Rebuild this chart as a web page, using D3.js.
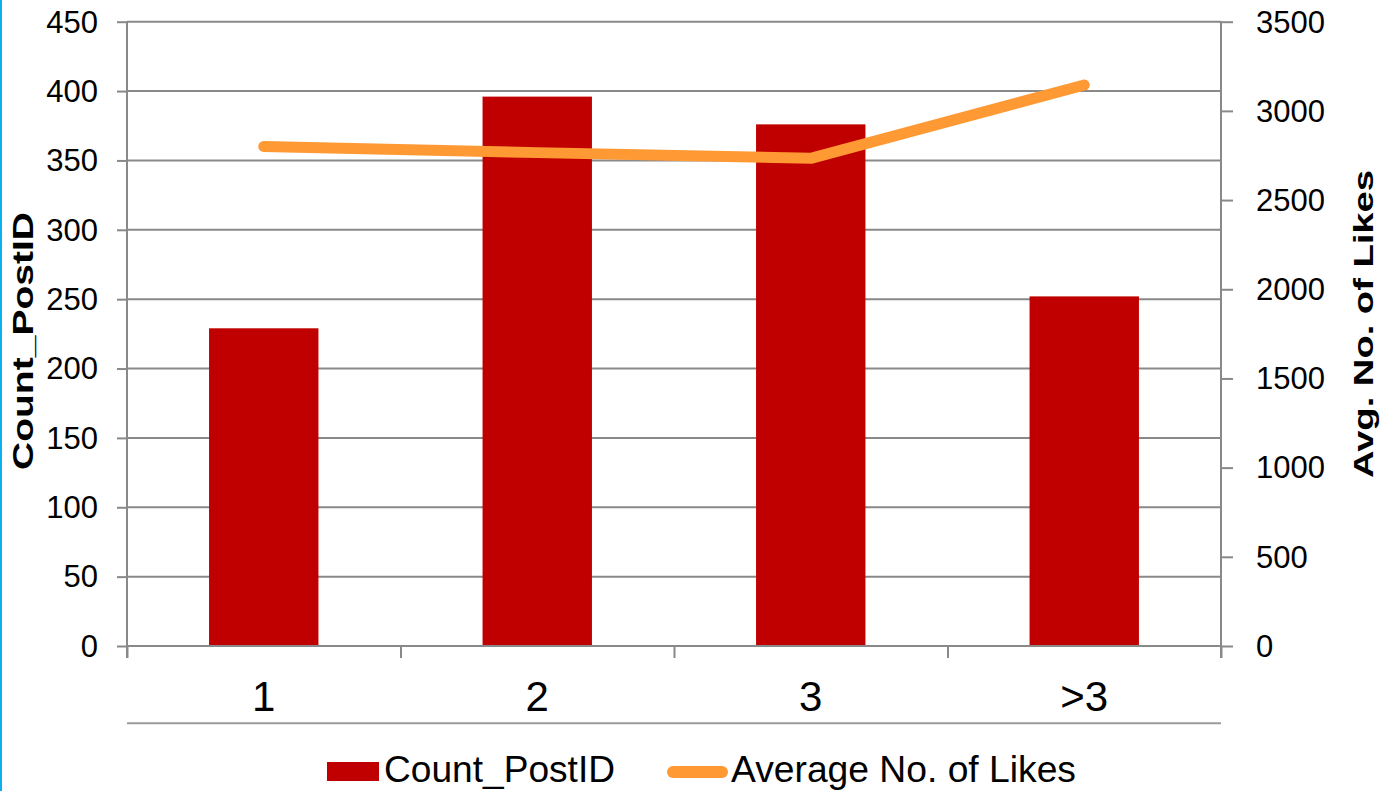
<!DOCTYPE html>
<html>
<head>
<meta charset="utf-8">
<script src="https://cdn.jsdelivr.net/npm/d3@7"></script>
<style>
  html, body { margin: 0; padding: 0; background: #fff; }
  svg { display: block; }
  text { font-family: "Liberation Sans", Arial, sans-serif; fill: #000; }
</style>
</head>
<body>
<svg id="chart" width="1390" height="791"></svg>
<script>
// Posts grouped by number of items
const categories = ["1", "2", "3", ">3"];
const countPostID = [229, 396, 376, 252];
const avgLikes = [2800, 2766, 2734, 3145];
const leftTicks = [0, 50, 100, 150, 200, 250, 300, 350, 400, 450];
const rightTicks = [0, 500, 1000, 1500, 2000, 2500, 3000, 3500];
const seriesNames = ["Count_PostID", "Average No. of Likes"];
const axisTitles = { left: "Count_PostID", right: "Avg. No. of Likes" };

const W = 1390, H = 791;
const plot = { left: 127, right: 1221, top: 21.7, bottom: 646 };
const gridColor = "#898989";
const barColor = "#C00000";
const lineColor = "#FF9933";

const svg = d3.select("#chart");

// thin accent border on the left edge
svg.append("rect").attr("x", 0).attr("y", 0).attr("width", 2).attr("height", H)
  .attr("fill", "#0AB0F0");

const x = d3.scaleBand().domain(categories)
  .range([plot.left, plot.right]).paddingInner(0.6).paddingOuter(0.3);
const xEdge = d3.scaleLinear().domain([0, categories.length]).range([plot.left, plot.right]);
const yL = d3.scaleLinear().domain([0, 450]).range([plot.bottom, plot.top]);
const yR = d3.scaleLinear().domain([0, 3500]).range([plot.bottom, plot.top]);

// gridlines + left tick marks
const gLeft = svg.append("g").attr("transform", `translate(${plot.left},0)`)
  .call(d3.axisLeft(yL).tickValues(leftTicks).tickSize(10).tickFormat(""));
gLeft.select(".domain").remove();
gLeft.selectAll(".tick line").attr("stroke", gridColor).attr("stroke-width", 2);

svg.append("g").selectAll("line").data(leftTicks).join("line")
  .attr("x1", plot.left).attr("x2", plot.right)
  .attr("y1", d => yL(d)).attr("y2", d => yL(d))
  .attr("stroke", gridColor).attr("stroke-width", 2);

// left tick labels
svg.append("g").selectAll("text").data(leftTicks).join("text")
  .attr("x", 98).attr("y", d => yL(d)).attr("dy", "0.35em")
  .attr("text-anchor", "end").attr("font-size", 31)
  .text(d => d);

// right axis ticks
const gRight = svg.append("g").attr("transform", `translate(${plot.right},0)`)
  .call(d3.axisRight(yR).tickValues(rightTicks).tickSize(12).tickFormat(""));
gRight.select(".domain").remove();
gRight.selectAll(".tick line").attr("stroke", gridColor).attr("stroke-width", 2);

svg.append("g").selectAll("text").data(rightTicks).join("text")
  .attr("x", 1256).attr("y", d => yR(d)).attr("dy", "0.35em")
  .attr("text-anchor", "start").attr("font-size", 31)
  .text(d => d);

// vertical axis lines (extend down through category ticks)
[plot.left, plot.right].forEach(px => {
  svg.append("line").attr("x1", px).attr("x2", px)
    .attr("y1", plot.top).attr("y2", plot.bottom + 12)
    .attr("stroke", gridColor).attr("stroke-width", 2);
});

// category boundary ticks
const gBottom = svg.append("g").attr("transform", `translate(0,${plot.bottom})`)
  .call(d3.axisBottom(xEdge).tickValues(d3.range(0, categories.length + 1)).tickSize(12).tickFormat(""));
gBottom.select(".domain").remove();
gBottom.selectAll(".tick line").attr("stroke", gridColor).attr("stroke-width", 2);

// bars
svg.append("g").selectAll("rect").data(categories).join("rect")
  .attr("x", d => x(d)).attr("width", x.bandwidth())
  .attr("y", (d, i) => yL(countPostID[i]))
  .attr("height", (d, i) => yL(0) - yL(countPostID[i]))
  .attr("fill", barColor);

// zero line on top of bars
svg.append("line").attr("x1", plot.left).attr("x2", plot.right)
  .attr("y1", yL(0)).attr("y2", yL(0))
  .attr("stroke", gridColor).attr("stroke-width", 2);

// average likes line
const line = d3.line()
  .x((d, i) => x(categories[i]) + x.bandwidth() / 2)
  .y(d => yR(d));
svg.append("path").datum(avgLikes).attr("d", line)
  .attr("fill", "none").attr("stroke", lineColor).attr("stroke-width", 11)
  .attr("stroke-linecap", "round").attr("stroke-linejoin", "round");

// category labels
svg.append("g").selectAll("text").data(categories).join("text")
  .attr("x", d => x(d) + x.bandwidth() / 2).attr("y", 710.5)
  .attr("text-anchor", "middle").attr("font-size", 42)
  .text(d => d);

// separator under category labels
svg.append("line").attr("x1", plot.left).attr("x2", plot.right)
  .attr("y1", 723.3).attr("y2", 723.3)
  .attr("stroke", "#9a9a9a").attr("stroke-width", 2);

// axis titles
svg.append("text")
  .attr("transform", "translate(33,341) rotate(-90)")
  .attr("text-anchor", "middle").attr("font-size", 30).attr("font-weight", "bold")
  .attr("textLength", 258).attr("lengthAdjust", "spacingAndGlyphs")
  .text(axisTitles.left);

svg.append("text")
  .attr("transform", "translate(1373,324) rotate(-90)")
  .attr("text-anchor", "middle").attr("font-size", 28).attr("font-weight", "bold")
  .attr("textLength", 308).attr("lengthAdjust", "spacingAndGlyphs")
  .text(axisTitles.right);

// legend
const lg = svg.append("g");
lg.append("rect").attr("x", 327).attr("y", 762).attr("width", 52).attr("height", 19)
  .attr("fill", barColor);
lg.append("text").attr("x", 384).attr("y", 782).attr("font-size", 36.5)
  .attr("textLength", 231).attr("lengthAdjust", "spacingAndGlyphs")
  .text(seriesNames[0]);
lg.append("line").attr("x1", 673).attr("x2", 722).attr("y1", 772).attr("y2", 772)
  .attr("stroke", lineColor).attr("stroke-width", 12).attr("stroke-linecap", "round");
lg.append("text").attr("x", 731).attr("y", 782).attr("font-size", 36.5)
  .attr("textLength", 345).attr("lengthAdjust", "spacingAndGlyphs")
  .text(seriesNames[1]);
</script>
</body>
</html>
